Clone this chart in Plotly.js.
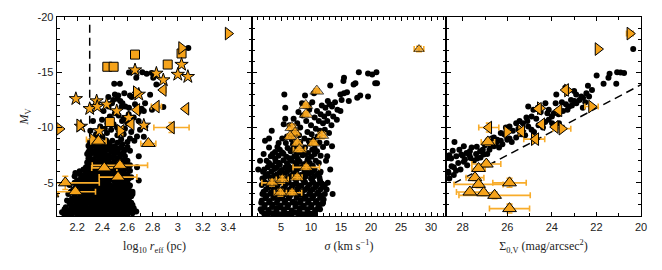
<!DOCTYPE html>
<html><head><meta charset="utf-8">
<script src="https://cdn.plot.ly/plotly-3.0.1.min.js"></script>
<style>html,body{margin:0;padding:0;background:#fff}#c{width:662px;height:270px}</style>
</head><body><div id="c"></div>
<script>
// ---------- Panel 1: log10 r_eff vs M_V ----------
const p1Dots = [
[3.084,-17.2],[2.612,-14.98],[2.665,-15.05],[2.718,-15.0],[2.753,-14.86],[2.793,-14.93],[2.819,-14.7],[2.67,-14.5],[2.805,-14.5],[2.83,-13.9],[2.495,-13.96],[2.54,-13.96],[2.448,-12.77],[2.527,-12.9],[2.575,-13.1],[2.634,-12.77],[2.74,-12.2],[2.78,-12.97],[2.487,-12.5],[2.554,-11.9],[2.612,-11.8],[2.713,-11.7],[2.885,-11.86],[2.5,-13.0],[2.62,-12.9],[2.543,-12.4],[2.477,-12.2],[2.583,-11.9],[2.45,-11.9],[2.41,-11.5],[2.73,-11.5],[2.795,-11.6],[2.5,-11.3],[2.61,-11.2],[2.326,-10.6],[2.398,-10.7],[2.557,-10.6],[2.689,-10.6],[2.384,-10.1],[2.517,-10.0],[2.742,-10.1],[2.305,-9.7],[2.437,-9.5],[2.57,-9.4],[2.676,-9.2],[2.73,-9.16],
[2.46,-11.0],[2.53,-11.1],[2.57,-10.8],[2.44,-10.4],[2.49,-10.3],[2.6,-10.4],[2.65,-10.9],[2.42,-9.9],[2.47,-9.8],[2.58,-9.9],[2.63,-9.6],[2.52,-9.3],[2.4,-9.2],[2.35,-9.4],[2.62,-9.0],[2.7,-9.8],[2.45,-12.1],[2.52,-12.6],[2.56,-12.2],[2.66,-12.1],[2.69,-11.4],
[2.30,-8.75],[2.34,-8.9],[2.38,-8.7],[2.43,-8.85],[2.48,-8.8],[2.55,-8.95],[2.60,-8.7],[2.655,-8.8],
[2.32,-8.6],[2.36,-8.62],[2.40,-8.58],[2.45,-8.6],[2.52,-8.62],
[2.29,-8.35],[2.33,-8.5],[2.37,-8.3],[2.41,-8.45],[2.46,-8.4],[2.50,-8.3],[2.56,-8.5],
[2.31,-8.2],[2.35,-8.22],[2.40,-8.18],[2.44,-8.2],[2.48,-8.22],[2.55,-8.2],[2.60,-8.25],
[2.30,-8.05],[2.35,-7.95],[2.39,-8.1],[2.44,-8.0],[2.49,-7.9],[2.53,-8.1],[2.58,-8.0],[2.62,-7.9],
[2.29,-7.8],[2.33,-7.82],[2.37,-7.78],[2.42,-7.8],[2.47,-7.83],[2.52,-7.78],[2.57,-7.8],
[2.28,-7.6],[2.32,-7.7],[2.36,-7.55],[2.40,-7.65],[2.45,-7.5],[2.51,-7.7],[2.55,-7.6],[2.69,-7.4],
[2.30,-7.4],[2.35,-7.42],[2.40,-7.38],[2.44,-7.4],[2.49,-7.43],[2.54,-7.37],[2.58,-7.4],
[2.29,-7.2],[2.33,-7.1],[2.38,-7.25],[2.42,-7.15],[2.47,-7.3],[2.52,-7.2],[2.60,-7.0],
[2.30,-7.0],[2.35,-6.98],[2.40,-7.02],[2.45,-7.0],[2.50,-6.97],[2.56,-7.0],
[2.28,-6.85],[2.31,-6.7],[2.35,-6.8],[2.39,-6.9],[2.44,-6.75],[2.49,-6.85],[2.54,-6.7],[2.58,-6.8],
[2.29,-6.6],[2.33,-6.62],[2.37,-6.58],[2.41,-6.6],[2.46,-6.63],[2.51,-6.57],[2.56,-6.6],[2.62,-6.6],
[2.27,-6.4],[2.30,-6.3],[2.34,-6.45],[2.38,-6.35],[2.43,-6.5],[2.48,-6.4],[2.53,-6.3],[2.59,-6.45],[2.676,-6.4],
[2.25,-6.2],[2.29,-6.22],[2.33,-6.18],[2.38,-6.2],[2.43,-6.23],[2.48,-6.17],[2.54,-6.2],[2.58,-6.22],
[2.22,-6.05],[2.28,-5.95],[2.32,-6.1],[2.36,-6.0],[2.41,-5.9],[2.46,-6.05],[2.51,-6.0],[2.56,-5.95],[2.62,-6.1],[2.186,-5.9],
[2.22,-5.8],[2.27,-5.82],[2.31,-5.78],[2.35,-5.8],[2.39,-5.83],[2.44,-5.77],[2.49,-5.8],[2.54,-5.82],[2.60,-5.8],
[2.18,-5.6],[2.25,-5.7],[2.29,-5.55],[2.33,-5.65],[2.37,-5.5],[2.42,-5.6],[2.47,-5.7],[2.52,-5.55],[2.57,-5.6],[2.63,-5.5],
[2.23,-5.4],[2.28,-5.42],[2.32,-5.38],[2.36,-5.4],[2.40,-5.43],[2.45,-5.37],[2.50,-5.4],[2.55,-5.42],[2.61,-5.4],
[2.20,-5.2],[2.26,-5.3],[2.30,-5.15],[2.34,-5.25],[2.38,-5.1],[2.43,-5.2],[2.48,-5.3],[2.53,-5.15],[2.58,-5.25],[2.69,-5.2],
[2.18,-5.0],[2.24,-5.02],[2.28,-4.98],[2.32,-5.0],[2.36,-5.03],[2.40,-4.97],[2.45,-5.0],[2.50,-5.02],[2.56,-4.98],[2.60,-5.0],
[2.14,-4.8],[2.22,-4.85],[2.26,-4.75],[2.30,-4.8],[2.34,-4.9],[2.38,-4.75],[2.42,-4.85],[2.46,-4.8],[2.50,-4.7],[2.54,-4.85],[2.58,-4.8],[2.62,-4.75],
[2.19,-4.6],[2.24,-4.62],[2.28,-4.58],[2.32,-4.6],[2.36,-4.63],[2.40,-4.57],[2.44,-4.6],[2.48,-4.62],[2.52,-4.58],[2.56,-4.6],[2.60,-4.64],
[2.17,-4.4],[2.21,-4.35],[2.25,-4.45],[2.29,-4.4],[2.33,-4.3],[2.37,-4.45],[2.41,-4.4],[2.45,-4.35],[2.49,-4.45],[2.53,-4.4],[2.57,-4.3],[2.61,-4.45],
[2.15,-4.2],[2.20,-4.22],[2.24,-4.18],[2.28,-4.2],[2.32,-4.23],[2.36,-4.17],[2.40,-4.2],[2.44,-4.22],[2.48,-4.18],[2.52,-4.2],[2.56,-4.23],[2.60,-4.18],[2.64,-4.2],
[2.13,-4.0],[2.19,-4.05],[2.23,-3.95],[2.27,-4.0],[2.31,-4.1],[2.35,-3.95],[2.39,-4.0],[2.43,-4.05],[2.47,-3.9],[2.51,-4.0],[2.55,-4.1],[2.59,-3.95],[2.64,-4.0],
[2.18,-3.8],[2.23,-3.82],[2.27,-3.78],[2.31,-3.8],[2.35,-3.83],[2.39,-3.77],[2.43,-3.8],[2.47,-3.82],[2.51,-3.78],[2.55,-3.8],[2.59,-3.83],[2.63,-3.78],
[2.16,-3.6],[2.21,-3.55],[2.25,-3.65],[2.29,-3.6],[2.33,-3.5],[2.37,-3.65],[2.41,-3.6],[2.45,-3.55],[2.49,-3.65],[2.53,-3.6],[2.57,-3.5],[2.61,-3.6],
[2.12,-3.4],[2.17,-3.42],[2.21,-3.38],[2.25,-3.4],[2.29,-3.43],[2.33,-3.37],[2.37,-3.4],[2.41,-3.42],[2.45,-3.38],[2.49,-3.4],[2.53,-3.43],[2.57,-3.37],[2.61,-3.4],
[2.14,-3.2],[2.19,-3.25],[2.23,-3.15],[2.27,-3.2],[2.31,-3.3],[2.35,-3.15],[2.39,-3.2],[2.43,-3.25],[2.47,-3.1],[2.51,-3.2],[2.55,-3.3],[2.59,-3.15],[2.63,-3.2],
[2.15,-3.0],[2.19,-3.02],[2.23,-2.98],[2.27,-3.0],[2.31,-3.03],[2.35,-2.97],[2.39,-3.0],[2.43,-3.02],[2.47,-2.98],[2.51,-3.0],[2.55,-3.03],[2.59,-2.97],[2.64,-3.0],
[2.11,-2.8],[2.17,-2.75],[2.21,-2.85],[2.25,-2.8],[2.29,-2.7],[2.33,-2.85],[2.37,-2.8],[2.41,-2.75],[2.45,-2.85],[2.49,-2.8],[2.53,-2.7],[2.57,-2.8],[2.61,-2.85],[2.65,-2.7],
[2.10,-2.6],[2.15,-2.62],[2.19,-2.58],[2.23,-2.6],[2.27,-2.63],[2.31,-2.57],[2.35,-2.6],[2.39,-2.62],[2.43,-2.58],[2.47,-2.6],[2.51,-2.63],[2.55,-2.57],[2.59,-2.6],[2.63,-2.62],
[2.08,-2.35],[2.13,-2.45],[2.18,-2.4],[2.22,-2.35],[2.26,-2.45],[2.30,-2.4],[2.34,-2.3],[2.38,-2.45],[2.42,-2.4],[2.46,-2.35],[2.50,-2.45],[2.54,-2.4],[2.58,-2.3],[2.62,-2.45],[2.67,-2.4],
[2.12,-2.25],[2.16,-2.22],[2.24,-2.25],[2.28,-2.22],[2.32,-2.25],[2.36,-2.22],[2.40,-2.25],[2.44,-2.22],[2.48,-2.25],[2.52,-2.22],[2.56,-2.25],[2.60,-2.22],[2.64,-2.25],
[2.10,-2.1],[2.15,-2.05],[2.20,-2.1],[2.24,-2.05],[2.28,-2.1],[2.32,-2.05],[2.36,-2.1],[2.40,-2.05],[2.44,-2.1],[2.48,-2.05],[2.52,-2.1],[2.56,-2.05],[2.60,-2.1]
];
const p1Squares = [[2.44,-15.5],[2.49,-15.5],[2.66,-16.6],[2.92,-15.7],[3.03,-16.7],[2.46,-10.5]];
const p1Stars = [[2.66,-15.2],[2.83,-14.9],[2.885,-14.3],[3.03,-15.7],[3.0,-14.8],[3.08,-14.6],[2.19,-12.6],[2.355,-12.4],[2.30,-11.7],[2.36,-11.9],[2.435,-12.1],[2.515,-11.5],[2.61,-10.9],[2.23,-10.1],[2.376,-9.7],[2.73,-10.2],[2.69,-13.0]];
// [x, M, xerr, yerr]
const p1Left = [[2.885,-13.4,0.02,0.15],[2.83,-11.9,0.04,0.15],[3.065,-11.7,0,0],[2.675,-11.6,0,0],[2.95,-10.0,0.14,0.45],[2.63,-10.3,0,0],[2.55,-9.7,0,0]];
const p1Right = [[3.40,-18.5,0,0],[3.03,-17.2,0,0],[2.06,-9.88,0,0],[2.67,-13.2,0,0],[2.22,-10.2,0,0],[2.324,-8.92,0.05,0.15],[2.54,-9.7,0,0]];
const p1Up = [[2.37,-8.77,0.06,0.2],[2.766,-8.56,0.06,0.2],[2.416,-6.35,0.1,0.2],[2.54,-6.58,0.22,0.2],[2.525,-5.52,0.15,0.2],[2.106,-5.0,0.27,0.6],[2.186,-4.2,0.16,0.2],[2.0,-4.0,0.05,0.3]];
const p1Limit = {x:[2.3,2.3], y:[-19.3,-2]};

// ---------- Panel 2: sigma vs M_V ----------
const p2Dots = [
[17.97,-15.0],[19.5,-14.9],[20.2,-14.8],[20.9,-15.0],[21.0,-14.0],[19.5,-12.8],[17.1,-13.9],[15.5,-14.5],[13.2,-13.8],[14.9,-13.0],[15.5,-13.1],[16.0,-13.2],[15.1,-12.5],[16.3,-12.4],[17.7,-12.7],[18.2,-12.9],[13.5,-11.9],[14.4,-11.6],[14.9,-11.5],[12.4,-11.8],[13.1,-12.1],[10.5,-13.1],[10.2,-12.3],[5.55,-13.0],[5.7,-11.8],[5.7,-10.8],[5.45,-10.3],[20.7,-14.0],[17.4,-14.0],[15.4,-14.2],[2.33,-8.8],[3.45,-9.7],[12.6,-8.6],[13.5,-8.3],[12.7,-7.4],[1.2,-6.2],[11.5,-5.9],[12.1,-3.5],[11.5,-2.6],
[11.0,-11.5],[11.6,-11.2],[12.2,-11.0],[12.9,-11.3],[13.7,-11.0],[14.3,-10.7],[10.6,-10.9],[11.3,-10.6],[12.0,-10.4],[12.7,-10.6],[13.4,-10.2],[10.0,-10.2],[10.8,-9.9],[11.5,-9.7],[12.3,-9.8],[9.4,-9.6],[10.1,-9.4],[9.2,-10.6],[8.6,-11.1],[9.7,-11.6],[8.2,-10.0],[7.7,-10.4],[8.9,-9.0],[9.6,-8.8],[10.4,-8.9],[11.1,-9.2],[14.0,-12.3],[12.8,-12.4],[11.8,-12.0],
[6.0,-9.2],[6.8,-8.9],[7.4,-9.4],[5.2,-9.0],[4.6,-8.6],[8.0,-9.3],[7.1,-10.8],[6.4,-10.2],[7.9,-11.4],[8.5,-12.2],[9.0,-12.9],[9.6,-12.0],[3.0,-9.0],[2.1,-7.6],[1.5,-7.0],[13.0,-9.5],[12.5,-7.0],[13.2,-6.2],[12.8,-5.0],[13.6,-4.0],[12.6,-4.4],[11.9,-3.1],
[5.8,-8.6],[7.0,-8.5],[8.2,-8.7],[9.8,-8.55],[11.4,-8.65],
[3.0,-8.2],[4.4,-8.25],[6.1,-8.15],[7.4,-8.3],[9.0,-8.2],[10.6,-8.1],[12.0,-8.25],
[4.8,-8.0],[6.9,-8.0],[8.6,-7.98],[10.2,-8.0],
[4.0,-7.8],[5.2,-7.75],[6.6,-7.85],[8.0,-7.8],[9.5,-7.7],[11.0,-7.85],
[3.6,-7.6],[5.4,-7.62],[7.6,-7.58],[9.0,-7.6],[10.6,-7.6],
[3.3,-7.4],[4.6,-7.45],[5.9,-7.35],[7.2,-7.4],[8.6,-7.5],[10.1,-7.35],[11.6,-7.45],
[4.0,-7.2],[6.4,-7.22],[7.8,-7.18],[9.5,-7.2],
[2.6,-7.0],[4.1,-6.95],[5.4,-7.05],[6.8,-7.0],[8.1,-6.9],[9.4,-7.05],[10.8,-7.0],
[3.0,-6.8],[4.6,-6.82],[6.0,-6.78],[7.4,-6.8],[9.8,-6.8],[11.3,-6.8],
[3.5,-6.6],[4.8,-6.65],[6.2,-6.55],[7.6,-6.6],[8.9,-6.7],[10.3,-6.55],
[2.8,-6.4],[4.3,-6.42],[5.7,-6.38],[7.1,-6.4],[8.5,-6.43],[9.9,-6.4],
[2.2,-6.2],[3.9,-6.25],[5.1,-6.15],[6.5,-6.2],[7.9,-6.3],[9.2,-6.15],[10.6,-6.2],
[2.0,-6.0],[3.4,-6.02],[4.8,-5.98],[6.0,-6.0],[7.5,-6.03],[8.9,-5.97],[10.2,-6.0],[11.6,-6.0],
[2.8,-5.8],[4.3,-5.75],[5.6,-5.85],[7.0,-5.8],[8.3,-5.7],[9.7,-5.85],[11.1,-5.8],
[2.4,-5.6],[3.8,-5.62],[5.1,-5.58],[6.5,-5.6],[7.8,-5.63],[9.1,-5.57],[10.5,-5.6],
[1.9,-5.4],[3.2,-5.45],[4.5,-5.35],[5.9,-5.4],[7.3,-5.5],[8.6,-5.35],[10.0,-5.4],[11.4,-5.45],
[2.1,-5.2],[3.4,-5.22],[4.8,-5.18],[6.1,-5.2],[7.5,-5.23],[8.8,-5.17],[10.2,-5.2],[11.5,-5.22],
[2.4,-5.0],[3.7,-4.95],[5.0,-5.05],[6.3,-5.0],[7.6,-4.9],[9.0,-5.05],[10.4,-5.0],[11.8,-4.95],
[1.8,-4.8],[3.1,-4.82],[4.4,-4.78],[5.7,-4.8],[7.0,-4.83],[8.4,-4.77],[9.7,-4.8],[11.0,-4.82],[12.3,-4.8],
[2.9,-4.6],[4.2,-4.65],[5.5,-4.55],[6.8,-4.6],[8.1,-4.7],[9.4,-4.55],[10.7,-4.6],[12.0,-4.65],
[2.5,-4.4],[3.8,-4.42],[5.1,-4.38],[6.4,-4.4],[7.7,-4.43],[9.0,-4.37],[10.3,-4.4],[11.6,-4.42],
[2.1,-4.2],[3.4,-4.15],[4.7,-4.25],[6.0,-4.2],[7.3,-4.1],[8.6,-4.25],[9.9,-4.2],[11.2,-4.15],
[1.9,-4.0],[3.2,-4.02],[4.5,-3.98],[5.8,-4.0],[7.1,-4.03],[8.4,-3.97],[9.7,-4.0],[11.0,-4.02],[12.3,-4.0],
[2.6,-3.8],[3.9,-3.85],[5.2,-3.75],[6.5,-3.8],[7.8,-3.9],[9.1,-3.75],[10.4,-3.8],[11.7,-3.85],
[2.4,-3.6],[3.7,-3.62],[5.0,-3.58],[6.3,-3.6],[7.6,-3.63],[8.9,-3.57],[10.2,-3.6],[11.5,-3.62],
[1.8,-3.4],[3.1,-3.35],[4.4,-3.45],[5.7,-3.4],[7.0,-3.3],[8.3,-3.45],[9.6,-3.4],[10.9,-3.35],
[1.7,-3.2],[3.0,-3.22],[4.3,-3.18],[5.6,-3.2],[6.9,-3.23],[8.2,-3.17],[9.5,-3.2],[10.8,-3.22],[12.0,-3.2],
[2.3,-3.0],[3.6,-3.05],[4.9,-2.95],[6.2,-3.0],[7.5,-3.1],[8.8,-2.95],[10.1,-3.0],[11.4,-3.05],
[2.2,-2.8],[3.5,-2.82],[4.8,-2.78],[6.1,-2.8],[7.4,-2.83],[8.7,-2.77],[10.0,-2.8],[11.2,-2.82],
[1.6,-2.6],[2.9,-2.55],[4.2,-2.65],[5.5,-2.6],[6.8,-2.5],[8.1,-2.65],[9.4,-2.6],[10.7,-2.55],
[1.8,-2.4],[2.9,-2.42],[4.2,-2.38],[5.5,-2.4],[6.8,-2.43],[8.1,-2.37],[9.4,-2.4],[10.7,-2.42],
[2.2,-2.2],[3.5,-2.25],[4.8,-2.15],[6.1,-2.2],[7.4,-2.3],[8.7,-2.15],[10.0,-2.2],
[2.7,-2.05],[4.0,-2.05],[5.4,-2.05],[6.7,-2.05],[8.0,-2.05],[9.3,-2.05],[10.6,-2.05]
];
// [sigma, M, xerr, yerr, size]
const p2Up = [[28.0,-17.1,0.8,0.25,9],[10.96,-13.3,0.4,0.2,12],[9.13,-12.0,0.3,0.2,12],[9.18,-11.2,0.3,0.2,12],[6.8,-10.0,0.6,0.3,12],[7.34,-9.5,0.6,0.3,12],[11.8,-9.3,0.6,0.3,12],[6.5,-9.2,0.5,0.2,12],[7.72,-8.6,0.5,0.2,12],[10.4,-8.6,0.5,0.2,12],[8.06,-8.0,1.0,0.2,12],[9.2,-6.4,2.2,0.2,12],[7.7,-5.5,0.8,0.2,12],[3.5,-5.0,1.7,0.3,12],[5.2,-5.3,1.0,0.3,12],[4.9,-4.1,1.0,0.3,12],[6.84,-4.1,1.6,0.2,12]];

// ---------- Panel 3: Sigma_0,V vs M_V ----------
const p3Dots = [
[20.35,-17.1],[21.99,-14.7],[21.41,-14.86],[21.46,-14.5],[21.07,-15.0],[20.92,-14.98],[20.76,-14.93],[21.68,-13.96],[21.11,-13.96],[22.38,-13.78],[23.4,-13.6],[22.91,-13.0],[22.68,-12.8],[22.45,-13.1],[22.33,-12.8],[23.14,-12.5],[22.99,-12.4],[22.76,-12.5],[23.8,-13.0],[23.37,-12.1],[23.22,-11.9],[25.06,-11.9],[24.83,-11.6],[24.63,-11.8],[24.29,-12.2],[23.83,-12.2],[24.14,-11.6],[23.91,-11.3],[22.61,-11.8],[25.14,-10.9],[24.91,-11.0],[25.6,-10.4],[25.45,-10.6],[25.3,-10.4],[25.06,-10.1],[24.91,-9.8],[24.14,-10.7],[23.99,-10.4],[23.68,-10.4],[26.06,-10.0],[25.9,-10.1],[25.75,-9.7],[26.29,-9.5],[26.14,-9.4],[25.6,-9.1],[25.37,-9.4],[26.6,-9.1],[26.45,-8.9],[26.29,-8.8],[26.91,-8.7],[26.6,-8.3],[26.37,-8.2],[26.22,-8.5],[28.37,-8.7],[27.6,-8.2],[27.37,-8.26],[27.83,-7.7],[27.68,-7.86],[27.22,-7.86],[27.06,-7.57],[28.29,-7.4],[28.06,-7.57],[28.7,-7.27],[28.52,-7.2],
[27.9,-7.1],[28.2,-6.8],[28.5,-6.5],[28.65,-6.0],[28.4,-5.7],[28.6,-5.4],[28.1,-6.2],[27.8,-6.6],[27.5,-7.0],[27.2,-7.3],[26.9,-7.6],[26.8,-8.0],[27.0,-8.4],[28.45,-7.9],[28.15,-8.0],[27.95,-8.3],[26.0,-8.9],[25.8,-8.7],[25.2,-9.3],[24.8,-9.6],[24.6,-10.2],[24.4,-10.0],[24.3,-10.5],[24.0,-11.0],[23.7,-11.2],[23.5,-11.5],[23.3,-11.6],[23.1,-12.0],[22.9,-12.2],[22.6,-12.7],[22.2,-13.4],[24.5,-11.4],[24.7,-10.8],[25.9,-9.0],[26.5,-8.6],[27.4,-7.6],[26.7,-9.0],
[28.6,-7.5],[28.0,-7.45],[27.7,-7.5],[27.35,-7.2],[28.64,-5.9],[28.4,-6.4],[28.3,-6.1],[27.95,-6.9],[27.65,-7.25],[27.1,-8.0],[26.75,-8.4],[26.0,-9.6],[25.5,-9.9],[25.1,-10.6],[24.2,-11.3],[23.55,-12.3],[22.5,-12.3],[23.0,-13.3]
];
const p3Right = [[20.5,-18.5,0.15,0.15],[21.93,-17.1,0,0],[22.22,-11.9,0.3,0.15],[26.02,-9.6,0,0],[23.55,-9.9,0.4,0.15],[23.3,-13.35,0,0],[24.52,-11.75,0,0],[25.4,-9.7,0,0],[24.79,-8.95,0.47,0.2]];
const p3Left = [[23.68,-11.56,0.1,0.1],[24.45,-10.3,0,0],[23.85,-10.05,0,0],[26.83,-10.0,0.45,0.4],[23.38,-13.4,0.1,0.2],[24.6,-11.7,0,0],[25.35,-9.65,0,0],[24.72,-8.95,0,0]];
const p3Up = [[26.87,-8.7,0.3,0.3],[26.94,-6.7,0.65,0.25],[27.29,-6.3,0.3,0.2],[27.45,-5.47,0.4,0.25],[27.29,-4.86,1.1,0.3],[25.9,-5.0,0.75,0.4],[27.68,-4.17,0.6,0.25],[27.06,-4.1,0.5,0.25],[26.57,-3.87,1.6,0.3],[25.9,-2.67,0.9,0.4]];
const p3Limit = {x:[28.4,20.0], y:[-4.95,-13.87]};

// tick labels
const yTickVals = [-20,-15,-10,-5];
const yTickText = ['-20','-15','-10','-5'];

// ---------- build ----------
const ORANGE = '#F6A31A', ERR = '#F8AC2A';
const col = (a,i) => a.map(r => r[i]);
function dots(arr, xa, ya){
  return {type:'scatter', mode:'markers', x:col(arr,0), y:col(arr,1), xaxis:xa, yaxis:ya,
    marker:{color:'#000', size:6, line:{width:0}}, hoverinfo:'skip', showlegend:false};
}
function sym(arr, symbol, size, xa, ya, withErr){
  const t = {type:'scatter', mode:'markers', x:col(arr,0), y:col(arr,1), xaxis:xa, yaxis:ya,
    marker:{symbol:symbol, color:ORANGE, size: arr[0].length>4 ? col(arr,4) : size, line:{color:'#000', width:1}},
    hoverinfo:'skip', showlegend:false};
  if (withErr){
    t.error_x = {type:'data', array:col(arr,2), color:ERR, thickness:1.6, width:3, visible:true};
    t.error_y = {type:'data', array:col(arr,3), color:ERR, thickness:1.6, width:3, visible:true};
  }
  return t;
}
function line(o, xa, ya){
  return {type:'scatter', mode:'lines', x:o.x, y:o.y, xaxis:xa, yaxis:ya,
    line:{color:'#000', width:1.5, dash:'8px,5px'}, hoverinfo:'skip', showlegend:false};
}

const data = [
  dots(p1Dots,'x','y'), line(p1Limit,'x','y'),
  sym(p1Squares,'square',9,'x','y',false), sym(p1Stars,'star',10,'x','y',false),
  sym(p1Left,'triangle-left',11,'x','y',true), sym(p1Right,'triangle-right',11,'x','y',true),
  sym(p1Up,'triangle-up',12,'x','y',true),
  dots(p2Dots,'x2','y2'), sym(p2Up,'triangle-up',12,'x2','y2',true),
  dots(p3Dots,'x3','y3'), line(p3Limit,'x3','y3'),
  sym(p3Right,'triangle-right',11,'x3','y3',true), sym(p3Left,'triangle-left',11,'x3','y3',true),
  sym(p3Up,'triangle-up',12,'x3','y3',true)
];

const tickFont = {family:'Liberation Sans, Arial, sans-serif', size:11, color:'#222'};
const titleFont = {family:'Liberation Serif, DejaVu Serif, serif', size:12, color:'#222'};
function xax(domain, range, dtick, tick0, minorD, titleText, anchor){
  return {domain:domain, range:range, anchor:anchor, dtick:dtick, tick0:tick0, tickmode:'linear',
    showline:true, linecolor:'#000', linewidth:1.3, mirror:'allticks', ticks:'inside', ticklen:4,
    tickwidth:1, tickcolor:'#000', showgrid:false, zeroline:false, tickfont:tickFont,
    minor:{ticks:'inside', ticklen:3, dtick:minorD, tickcolor:'#000', tickwidth:1, showgrid:false},
    title:{text:titleText, font:titleFont, standoff:10}, automargin:false};
}
function yax(anchor, showLabels){
  const a = {domain:[0,1], range:[-2,-20], anchor:anchor, tickmode:'array', tickvals:yTickVals, ticktext:yTickText,
    showticklabels:showLabels, showline:true, linecolor:'#000', linewidth:1.3, mirror:'allticks',
    ticks:'inside', ticklen:5, tickwidth:1, tickcolor:'#000', showgrid:false, zeroline:false, tickfont:tickFont,
    minor:{ticks:'inside', ticklen:3, dtick:1, tick0:0, tickcolor:'#000', tickwidth:1, showgrid:false},
    automargin:false};
  if (showLabels) a.title = {text:'<i>M</i><sub>V</sub>', font:titleFont, standoff:6};
  return a;
}
const d1 = 195/584, d2 = 389/584;
const layout = {
  width:662, height:270, margin:{l:57, r:21, t:17, b:54}, paper_bgcolor:'#fff', plot_bgcolor:'#fff',
  showlegend:false,
  xaxis: xax([0,d1],[2.04,3.59],0.2,2.2,0.1,'log<sub>10</sub> <i>r</i><sub>eff</sub> (pc)','y'),
  xaxis2: xax([d1,d2],[0.16,32.5],5,0,1,'<i>σ</i> (km s<sup>−1</sup>)','y2'),
  xaxis3: xax([d2,1],[28.75,20],2,20,1,'Σ<sub>0,V</sub> (mag/arcsec<sup>2</sup>)','y3'),
  yaxis: yax('x', true), yaxis2: yax('x2', false), yaxis3: yax('x3', false)
};
Plotly.newPlot('c', data, layout, {staticPlot:true, displayModeBar:false});
</script></body></html>
